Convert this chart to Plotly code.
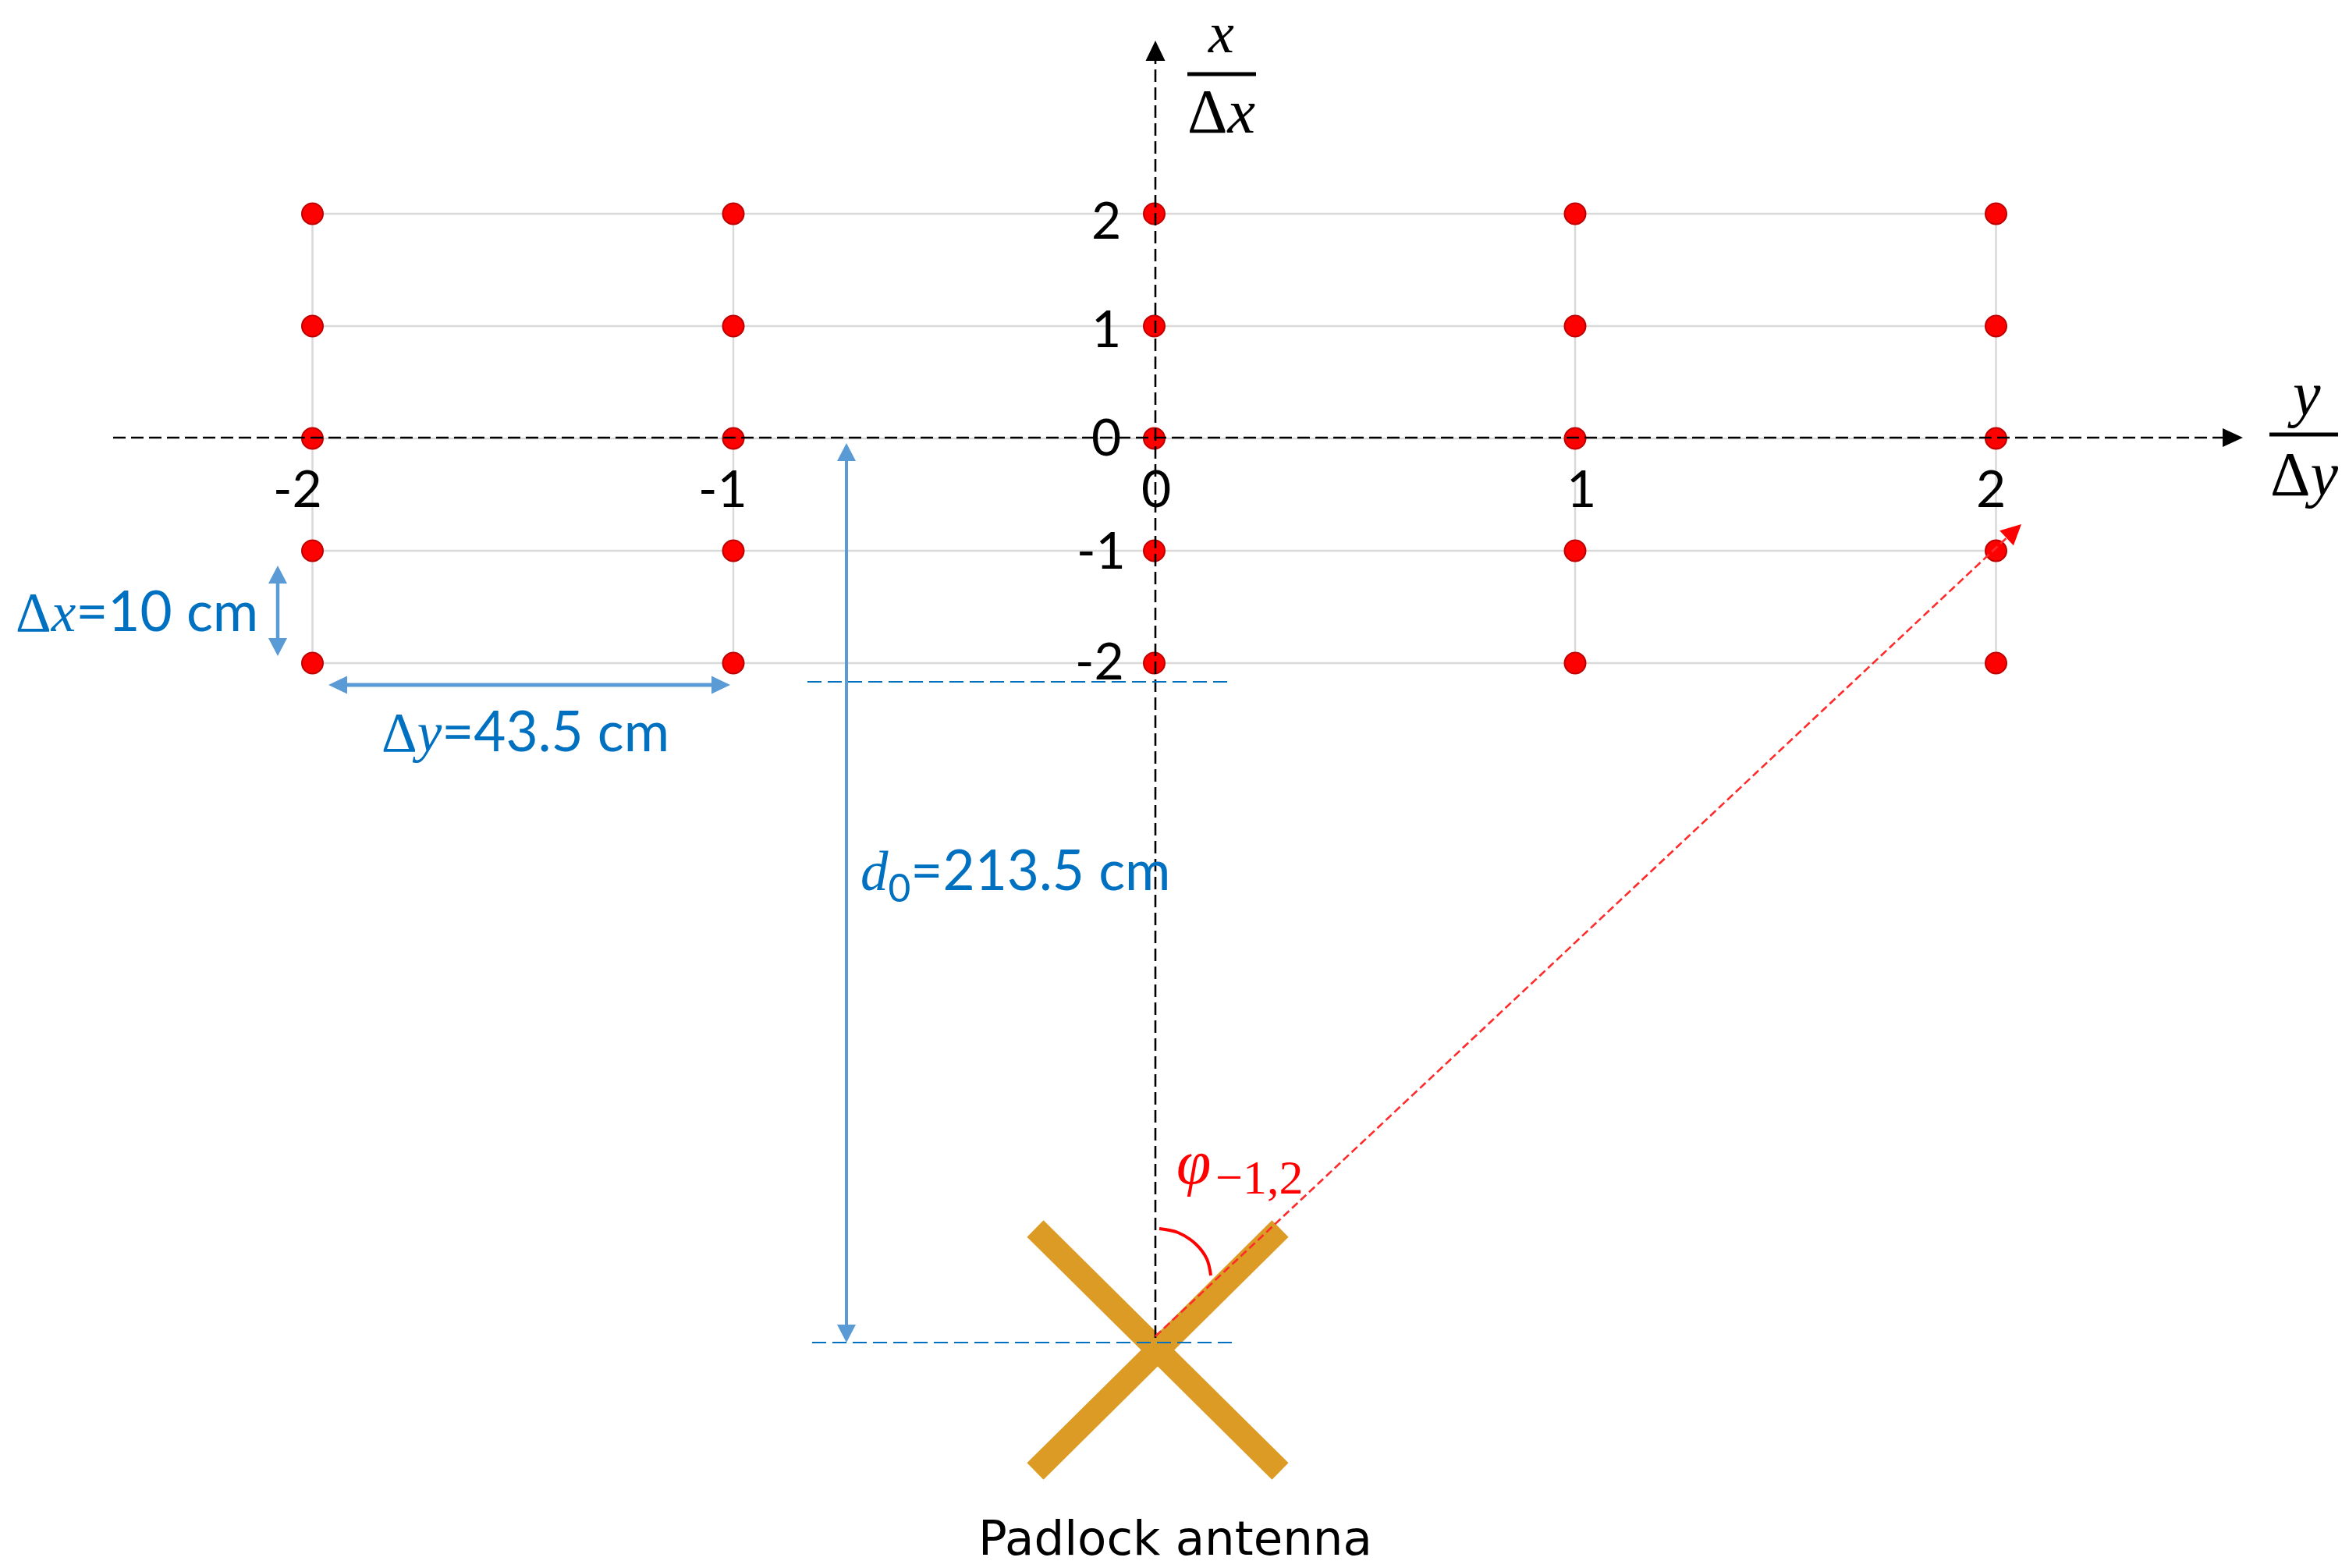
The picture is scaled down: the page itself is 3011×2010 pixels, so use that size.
import math

import plotly.graph_objects as go

# grid of measurement points, in units of dy and dx
y_positions = [-2, -1, 0, 1, 2]
x_positions = [2, 1, 0, -1, -2]
y_tick_labels = ["-2", "-1", "0", "1", "2"]
x_tick_labels = ["2", "1", "0", "-1", "-2"]
spacing_labels = ["10 cm", "43.5 cm", "213.5 cm"]
antenna_label = "Padlock antenna"

WIDTH, HEIGHT = 3011, 2010
# where the origin sits in the picture and how long one unit is
ORIGIN_X, ORIGIN_Y = 1479.5, 562
UNIT_X, UNIT_Y = 539.5, 144

RED = "#ff0000"
DARK_RED = "#c00000"
GRID = "#d9d9d9"
ARROW_BLUE = "#5b9bd5"
TEXT_BLUE = "#0070c0"
GOLD = "#dc9b24"
SANS = "Lato"
MATH = "Liberation Serif"


def ux(px):
    return (px - ORIGIN_X) / UNIT_X


def uy(py):
    return (ORIGIN_Y - py) / UNIT_Y


def add_line(fig, xs, ys, color, width, dash="solid", shape="linear"):
    fig.add_trace(go.Scatter(
        x=[ux(p) for p in xs], y=[uy(p) for p in ys], mode="lines",
        line=dict(color=color, width=width, dash=dash, shape=shape),
    ))


def add_head(fig, tip, angle, length, width, color):
    # triangle with its point at tip, angle in degrees from +x, clockwise on screen
    a = math.radians(angle)
    cx, cy = tip[0] - length * math.cos(a), tip[1] - length * math.sin(a)
    nx, ny = -math.sin(a) * width / 2, math.cos(a) * width / 2
    xs = [tip[0], cx + nx, cx - nx, tip[0]]
    ys = [tip[1], cy + ny, cy - ny, tip[1]]
    fig.add_trace(go.Scatter(
        x=[ux(p) for p in xs], y=[uy(p) for p in ys], mode="lines",
        fill="toself", fillcolor=color, line=dict(color=color, width=0),
    ))


def add_text(fig, text, px, py, size, color="black", family=SANS):
    fig.add_annotation(
        x=ux(px), y=uy(py), text=text, showarrow=False, borderpad=0,
        xanchor="center", yanchor="middle",
        font=dict(size=size, color=color, family=family),
    )


def math_span(text, italic=True):
    inner = f"<i>{text}</i>" if italic else text
    return f"<span style='font-family:{MATH}'>{inner}</span>"


fig = go.Figure()

# antenna goes under everything else
add_line(fig, [1327, 1641], [1575, 1886], GOLD, 30)
add_line(fig, [1327, 1641], [1886, 1575], GOLD, 30)

# light grid between the points
for row in x_positions:
    fig.add_trace(go.Scatter(
        x=[y_positions[0], y_positions[-1]], y=[row, row], mode="lines",
        line=dict(color=GRID, width=2.5),
    ))
for col in y_positions:
    if col != 0:
        fig.add_trace(go.Scatter(
            x=[col, col], y=[x_positions[0], x_positions[-1]], mode="lines",
            line=dict(color=GRID, width=2.5),
        ))

# measurement points
fig.add_trace(go.Scatter(
    x=[c for c in y_positions for r in x_positions],
    y=[r for c in y_positions for r in x_positions],
    mode="markers",
    marker=dict(size=27, color=RED, line=dict(color=DARK_RED, width=2)),
))

# axes
add_line(fig, [145, 2855], [561, 561], "black", 2.6, "16px,7px")
add_head(fig, (2875, 561), 0, 26, 24, "black")
add_line(fig, [1481, 1481], [1715, 76], "black", 2.6, "16px,7px")
add_head(fig, (1481, 52), -90, 26, 25, "black")

# ray to point (-1, 2)
add_line(fig, [1481, 2578], [1713, 684], "#ff2a2a", 2.6, "10px,5px")
add_head(fig, (2591, 672), -43.2, 26, 26, RED)
add_line(fig, [1486, 1510, 1533, 1547, 1552], [1575, 1580, 1595, 1614, 1635], RED, 4, shape="spline")

# spacing arrows
add_line(fig, [356, 356], [745, 820], ARROW_BLUE, 4.5)
add_head(fig, (356, 725), -90, 23, 24, ARROW_BLUE)
add_head(fig, (356, 841), 90, 23, 24, ARROW_BLUE)
add_line(fig, [440, 917], [878, 878], ARROW_BLUE, 5)
add_head(fig, (421, 878), 180, 24, 23, ARROW_BLUE)
add_head(fig, (936, 878), 0, 24, 23, ARROW_BLUE)
add_line(fig, [1085, 1085], [588, 1702], ARROW_BLUE, 4)
add_head(fig, (1085, 568), -90, 23, 24, ARROW_BLUE)
add_head(fig, (1085, 1721), 90, 23, 24, ARROW_BLUE)
add_line(fig, [1035, 1578], [874, 874], TEXT_BLUE, 2, "18px,8px")
add_line(fig, [1041, 1583], [1721, 1721], TEXT_BLUE, 2, "18px,8px")

# fraction bars of the axis names
add_line(fig, [1522, 1610], [95, 95], "black", 5)
add_line(fig, [2909, 2997], [557, 557], "black", 5)

# tick labels
y_label_px = [381, 926, 1482, 2027, 2552]
for label, px in zip(y_tick_labels, y_label_px):
    add_text(fig, label, px, 624, 66)
x_label_py = [280, 419, 558, 703, 845]
x_label_px = [1418, 1418, 1418, 1411, 1409]
for label, px, py in zip(x_tick_labels, x_label_px, x_label_py):
    add_text(fig, label, px, py, 66)

# axis names
add_text(fig, math_span("x"), 1565, 42, 74)
add_text(fig, math_span("Δ", False) + math_span("x"), 1565, 143, 80)
add_text(fig, math_span("y"), 2953, 505, 80)
add_text(fig, math_span("Δ", False) + math_span("y"), 2953, 608, 80)

# spacing labels
add_text(fig, math_span("Δ", False) + math_span("x") + "=" + spacing_labels[0], 175, 781, 71, TEXT_BLUE)
add_text(fig, math_span("Δ", False) + math_span("y") + "=" + spacing_labels[1], 673, 935, 71, TEXT_BLUE)
add_text(fig, math_span("d") + "<sub>0</sub>=" + spacing_labels[2], 1301, 1119, 71, TEXT_BLUE)

add_text(fig, math_span("φ"), 1530, 1490, 80, RED)
add_text(fig, "−1,2", 1614, 1509, 62, RED, MATH)
add_text(fig, antenna_label, 1506, 1971, 61, "black", "DejaVu Sans")

fig.update_xaxes(visible=False, range=[ux(0), ux(WIDTH)])
fig.update_yaxes(visible=False, range=[uy(HEIGHT), uy(0)])
fig.update_layout(
    width=WIDTH, height=HEIGHT, margin=dict(l=0, r=0, t=0, b=0),
    paper_bgcolor="white", plot_bgcolor="white",
    showlegend=False, hovermode=False,
)

fig.write_html(
    "out.html",
    config={"displayModeBar": False},
    post_script="document.body.style.margin='0';",
)
